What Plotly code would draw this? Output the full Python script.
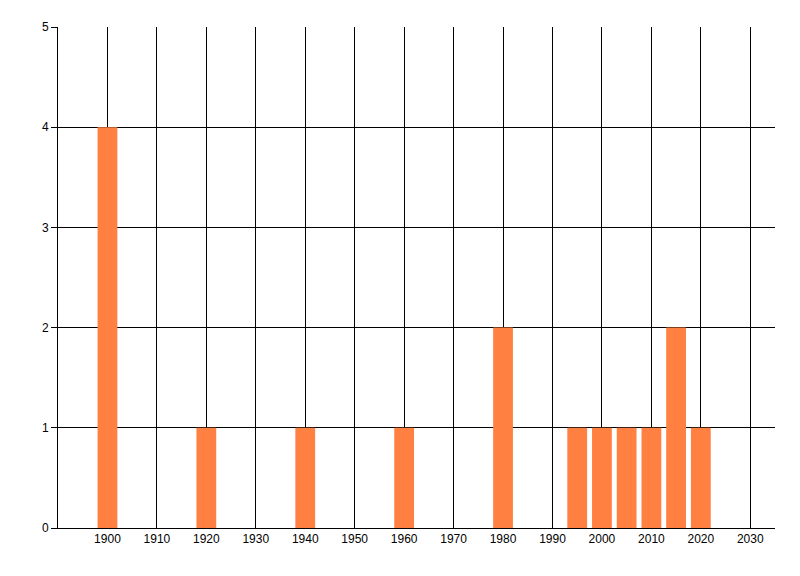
import plotly.graph_objects as go

years = [1900, 1920, 1940, 1960, 1980, 1995, 2000, 2005, 2010, 2015, 2020]
counts = [4, 1, 1, 1, 2, 1, 1, 1, 1, 2, 1]
x_ticks = list(range(1900, 2031, 10))
y_ticks = [0, 1, 2, 3, 4, 5]

fig = go.Figure(go.Bar(x=years, y=counts, width=4, marker=dict(color="#FF8040", line=dict(width=0))))

fig.update_layout(
    width=800, height=576,
    margin=dict(l=50, r=33, t=19, b=56, autoexpand=False),
    paper_bgcolor="white", plot_bgcolor="white",
    showlegend=False,
    font=dict(family="Liberation Sans, Arial, sans-serif", size=12, color="black"),
)
fig.update_xaxes(
    range=[1890, 2035], tickvals=x_ticks, ticktext=[str(v) for v in x_ticks],
    showgrid=True, gridcolor="black", gridwidth=1,
    showline=True, linecolor="black", linewidth=1,
    zeroline=False, ticks="", layer="below traces",
)
fig.update_yaxes(
    range=[0, 5], tickvals=y_ticks,
    showgrid=True, gridcolor="black", gridwidth=1,
    showline=True, linecolor="black", linewidth=1,
    zeroline=False, ticks="outside", ticklen=6, tickcolor="black",
    layer="below traces",
)
fig.write_html("out.html")
